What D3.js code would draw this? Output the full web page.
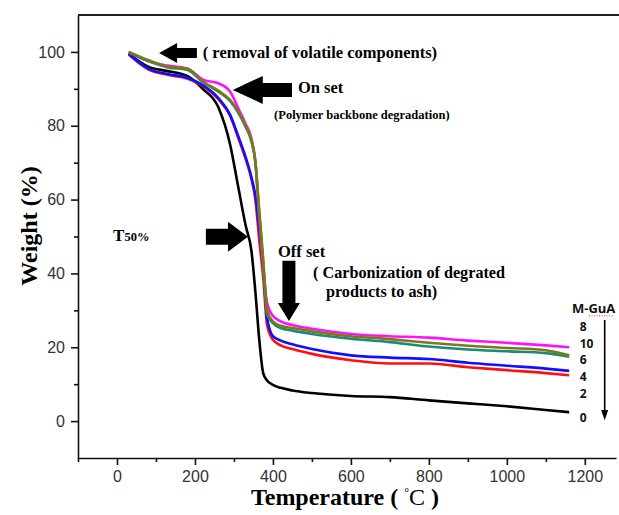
<!DOCTYPE html>
<html lang="en">
<head>
    <meta charset="UTF-8">
    <title>TGA M-GuA</title>
    <script src="https://cdn.jsdelivr.net/npm/d3@7"></script>
    <style>
        html, body {
            margin: 0;
            background: #fff;
        }
        .tick text {
            font-family: "Liberation Sans", Arial, sans-serif;
            font-size: 16px;
            fill: #333;
        }
        .ann {
            font-family: "Liberation Serif", "Times New Roman", serif;
            font-weight: bold;
            fill: #000;
        }
        .leg {
            font-family: "Open Sans", "Liberation Sans", sans-serif;
            font-weight: bold;
            font-size: 12px;
            fill: #111;
        }
    </style>
</head>
<body>
<div id="vis"></div>
<script>
// temperature grid (°C) shared by every curve
var temps = [30, 80, 130, 180, 220, 260, 290, 310, 330, 345, 355, 365, 375, 385, 400, 420, 450, 500, 600, 700, 800, 900, 1000, 1100, 1160];

// weight (%), one array per M-GuA loading
var w0  = [99.5, 96, 94.8, 93.5, 90, 85, 75, 64, 53, 46, 35, 22, 13, 11, 9.8, 9, 8.3, 7.6, 6.8, 6.5, 5.6, 4.8, 4, 3, 2.4];
var w2  = [99.3, 95.3, 93.8, 92.8, 90.8, 87.2, 82.7, 77, 71, 65.5, 60, 49, 39, 26, 22, 20.5, 19.5, 18.2, 16.5, 15.6, 15.6, 14.6, 13.8, 13, 12.4];
var w4  = [99.5, 95.5, 94, 93, 91, 87.5, 83, 77.5, 71.5, 66, 61, 52, 42, 28, 23, 21.8, 20.8, 19.5, 17.8, 17.2, 16.8, 15.8, 15, 14.2, 13.6];
var w6  = [99.8, 97.5, 95.8, 95.2, 91.8, 89.2, 86.7, 83.7, 79.7, 75.7, 70, 56, 43, 29, 26.5, 25.2, 24.5, 23.6, 22.3, 21.4, 20.2, 19.4, 18.9, 18.4, 17.4];
var w8  = [100, 97.5, 96.3, 95.5, 92.5, 91.5, 89.3, 85, 80.5, 76.5, 70, 55, 42, 32, 28.5, 27, 26, 25, 23.6, 23, 22.6, 21.8, 21.2, 20.5, 20];
var w10 = [100, 97.8, 96, 95.5, 92, 89.5, 87, 84, 80, 76, 70.5, 57, 44, 30, 27, 25.8, 25.2, 24.3, 23, 22.2, 21.2, 20.4, 19.8, 19.2, 17.8];

var seriesNames = ['0', '2', '4', '8', '6', '10'];
var seriesValues = [w0, w2, w4, w8, w6, w10];
var seriesColours = ['#000000', '#ff1010', '#1010ff', '#ff10ff', '#1a8a80', '#7d7a12'];

// legend labels, top to bottom
var legendLabels = ['8', '10', '6', '4', '2', '0'];
var legendLevels = [25.5, 21.1, 16.5, 11.9, 7.3, 0.8];

var xMajor = [0, 200, 400, 600, 800, 1000, 1200];
var xMinor = [-100, 100, 300, 500, 700, 900, 1100];
var yMajor = [0, 20, 40, 60, 80, 100];
var yMinor = [10, 30, 50, 70, 90];

var width = 619, height = 515;

var svg = d3.select('#vis')
    .append('svg')
    .attr('width', width)
    .attr('height', height);

var x = d3.scaleLinear().domain([-100, 1280]).range([78, 616]);
var y = d3.scaleLinear().domain([-10, 110]).range([458, 15]);

// axes
svg.append('g')
    .attr('transform', 'translate(0,' + y(-10) + ')')
    .call(d3.axisBottom(x).tickValues(xMinor).tickSize(4).tickSizeOuter(0).tickFormat(''))
    .call(function(g) { g.select('.domain').remove(); });

svg.append('g')
    .attr('class', 'x axis')
    .attr('transform', 'translate(0,' + y(-10) + ')')
    .call(d3.axisBottom(x).tickValues(xMajor).tickSize(7).tickPadding(6).tickSizeOuter(0).tickFormat(d3.format('d')));

svg.append('g')
    .attr('transform', 'translate(' + x(-100) + ',0)')
    .call(d3.axisLeft(y).tickValues(yMinor).tickSize(4).tickSizeOuter(0).tickFormat(''))
    .call(function(g) { g.select('.domain').remove(); });

svg.append('g')
    .attr('class', 'y axis')
    .attr('transform', 'translate(' + x(-100) + ',0)')
    .call(d3.axisLeft(y).tickValues(yMajor).tickSize(7).tickPadding(6).tickSizeOuter(0).tickFormat(d3.format('d')));

svg.selectAll('.domain, .tick line')
    .attr('stroke', '#111')
    .attr('stroke-width', 1.6);

// top frame line
svg.append('line')
    .attr('x1', x(-100)).attr('x2', width)
    .attr('y1', y(110)).attr('y2', y(110))
    .attr('stroke', '#222')
    .attr('stroke-width', 2);

// curves
var line = d3.line()
    .x(function(d, i) { return x(temps[i]); })
    .y(function(d) { return y(d); })
    .curve(d3.curveMonotoneX);

svg.selectAll('.curve')
    .data(seriesValues)
    .enter()
    .append('path')
    .attr('class', 'curve')
    .attr('d', line)
    .attr('fill', 'none')
    .attr('stroke', function(d, i) { return seriesColours[i]; })
    .attr('stroke-width', 2.6)
    .attr('stroke-linejoin', 'round');

// axis titles
svg.append('text')
    .attr('class', 'ann')
    .attr('transform', 'translate(37,226) rotate(-90)')
    .attr('text-anchor', 'middle')
    .style('font-size', '24px')
    .text('Weight (%)');

var xt = svg.append('text')
    .attr('class', 'ann')
    .attr('x', 345)
    .attr('y', 505)
    .attr('text-anchor', 'middle')
    .style('font-size', '24px');
xt.append('tspan').text('Temperature ( ');
xt.append('tspan').attr('dy', -9).style('font-size', '12px').style('font-weight', 'normal').text('°');
xt.append('tspan').attr('dy', 9).style('font-weight', 'normal').text('C');
xt.append('tspan').text(' )');

// block arrow: from (t0,v0) to tip (t1,v1) in data units
function blockArrow(t0, v0, t1, v1, shaft, head, headLen) {
    var ax = x(t0), ay = y(v0), bx = x(t1), by = y(v1);
    var len = Math.hypot(bx - ax, by - ay);
    var ang = Math.atan2(by - ay, bx - ax) * 180 / Math.PI;
    var s = shaft / 2, h = head / 2, b = len - headLen;
    var pts = [[0, -s], [b, -s], [b, -h], [len, 0], [b, h], [b, s], [0, s]];
    svg.append('path')
        .attr('d', 'M' + pts.join('L') + 'Z')
        .attr('transform', 'translate(' + ax + ',' + ay + ') rotate(' + ang + ')')
        .attr('fill', '#000');
}

function label(t, v, size, txt) {
    return svg.append('text')
        .attr('class', 'ann')
        .attr('x', x(t))
        .attr('y', y(v))
        .style('font-size', size + 'px')
        .text(txt);
}

blockArrow(205, 99.7, 108, 99.7, 10, 20, 18);
label(220, 98.4, 16.5, '( removal of volatile components)');

blockArrow(449, 89.7, 297, 89.7, 14, 28, 30);
label(464, 88.9, 16.5, 'On set');
label(403, 81.8, 12.5, '(Polymer backbone degradation)');

var t50 = label(-10, 48.8, 17, 'T');
t50.append('tspan').style('font-size', '12.5px').text('50%');
blockArrow(228, 49.9, 336, 49.9, 16, 30, 20);

label(413, 44.4, 16.5, 'Off set');
blockArrow(441, 43.4, 441, 27.1, 13, 22, 18);
label(503, 38.7, 16.2, '( Carbonization of degrated');
label(536, 33.6, 16.2, 'products to ash)');

// legend
svg.append('text')
    .attr('class', 'leg')
    .attr('x', x(1167))
    .attr('y', y(29.3))
    .style('font-size', '13px')
    .text('M-GuA');
svg.append('line')
    .attr('x1', 589).attr('x2', 613)
    .attr('y1', y(28.5)).attr('y2', y(28.5))
    .attr('stroke', '#e33')
    .attr('stroke-width', 1)
    .attr('stroke-dasharray', '1,1.5');

svg.selectAll('.legnum')
    .data(legendLabels)
    .enter()
    .append('text')
    .attr('class', 'leg legnum')
    .attr('x', x(1187))
    .attr('y', function(d, i) { return y(legendLevels[i]); })
    .attr('dy', '0.36em')
    .text(function(d) { return d; });

svg.append('line')
    .attr('x1', x(1251)).attr('x2', x(1251))
    .attr('y1', y(27.4)).attr('y2', y(2.5))
    .attr('stroke', '#000')
    .attr('stroke-width', 1.6);
svg.append('path')
    .attr('d', 'M' + (x(1251) - 3.5) + ',' + y(3) + 'L' + (x(1251) + 3.5) + ',' + y(3) + 'L' + x(1251) + ',' + y(0.2) + 'Z')
    .attr('fill', '#000');
</script>
</body>
</html>
